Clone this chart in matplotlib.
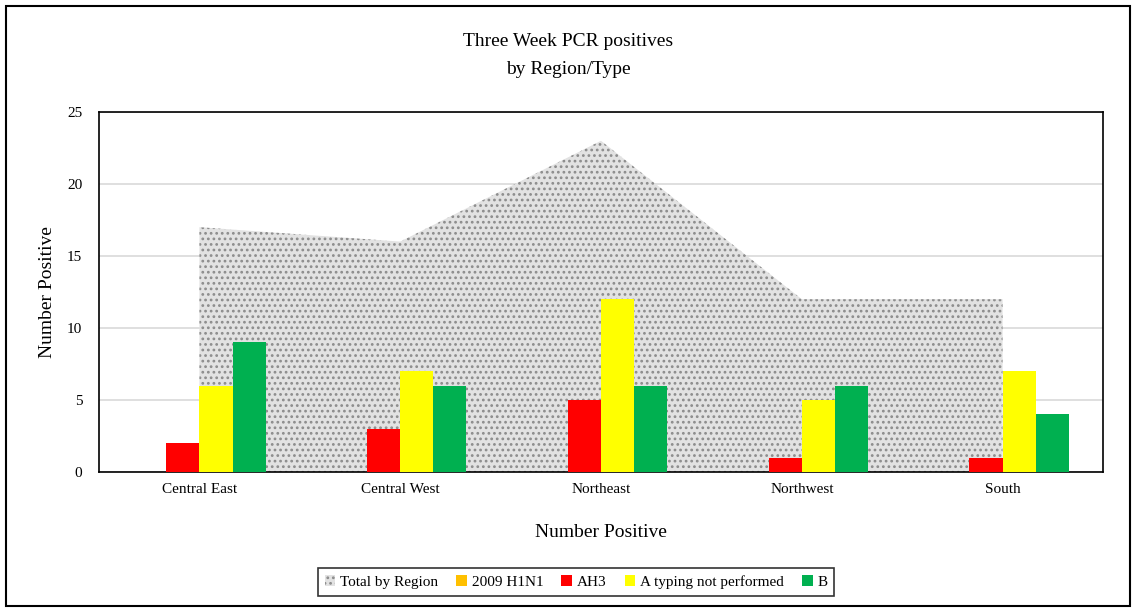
import matplotlib.pyplot as plt
import numpy as np
from matplotlib.patches import Rectangle

plt.rcParams['font.family'] = ['Liberation Serif', 'DejaVu Serif']
plt.rcParams['hatch.linewidth'] = 1.2

regions = ['Central East', 'Central West', 'Northeast', 'Northwest', 'South']
total = [17, 16, 23, 12, 12]
h1n1 = [0, 0, 0, 0, 0]
ah3 = [2, 3, 5, 1, 1]
a_not_typed = [6, 7, 12, 5, 7]
b = [9, 6, 6, 6, 4]

fig = plt.figure(figsize=(11.36, 6.11), dpi=100)
ax = fig.add_axes([99 / 1136, 1 - 472 / 611, (1103 - 99) / 1136, (472 - 112) / 611])

x = np.arange(len(regions))
ax.fill_between(x, 0, total, facecolor='#e2e2e2', edgecolor='#8c8c8c', hatch='...',
                linewidth=0, label='Total by Region', zorder=2)

w = 0.165
series = [(h1n1, '#ffc000', '2009 H1N1'), (ah3, '#ff0000', 'AH3'),
          (a_not_typed, '#ffff00', 'A typing not performed'), (b, '#00b050', 'B')]
for i, (vals, col, lab) in enumerate(series):
    ax.bar(x + (i - 1.5) * w, vals, w, color=col, label=lab, zorder=3)

ax.set_xlim(-0.5, len(regions) - 0.5)
ax.set_ylim(0, 25)
ax.set_yticks(range(0, 26, 5))
ax.set_xticks(x)
ax.set_xticklabels(regions)
ax.tick_params(length=0, labelsize=11, pad=8)
ax.tick_params(axis='y', pad=12)
ax.yaxis.grid(True, color='#d9d9d9', linewidth=1.2, zorder=1)
ax.set_axisbelow(True)
for s in ax.spines.values():
    s.set_color('black')
    s.set_linewidth(1.2)

ax.set_ylabel('Number Positive', fontsize=14, labelpad=8)
ax.set_xlabel('Number Positive', fontsize=14, labelpad=20)
fig.text(0.5, 1 - 41 / 611, 'Three Week PCR positives', ha='center', va='center', fontsize=14)
fig.text(0.5, 1 - 69 / 611, 'by Region/Type', ha='center', va='center', fontsize=14)

leg = ax.legend(loc='center', bbox_to_anchor=(576 / 1136, 1 - 582 / 611), bbox_transform=fig.transFigure,
                ncol=5, fontsize=11, frameon=True, fancybox=False, edgecolor='black',
                handlelength=0.7, handleheight=0.7, handletextpad=0.3, columnspacing=1.2,
                borderpad=0.45)
leg.get_frame().set_linewidth(1.2)

fig.patches.append(Rectangle((6 / 1136, 5 / 611), 1124 / 1136, 600 / 611, transform=fig.transFigure,
                             fill=False, edgecolor='black', linewidth=1.5))

fig.savefig('out.png', dpi=100)
